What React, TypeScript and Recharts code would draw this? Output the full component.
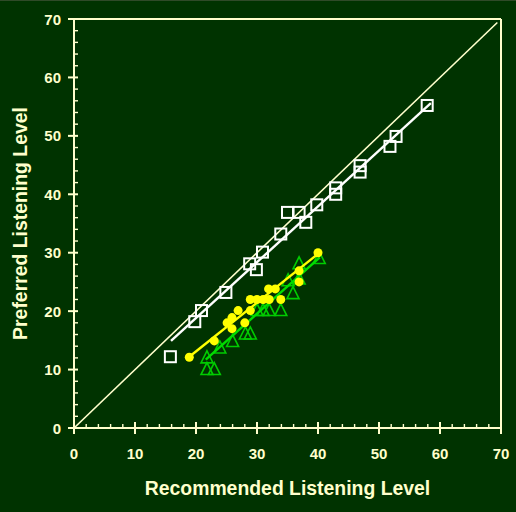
import React from 'react';
import { ScatterChart, Scatter, XAxis, YAxis, ReferenceLine } from 'recharts';

const cream = '#ffffcc';
const bg = '#003300';

const axisTicks = [0, 2, 4, 6, 8, 10, 12, 14, 16, 18, 20, 22, 24, 26, 28, 30, 32, 34, 36, 38, 40, 42, 44, 46, 48, 50, 52, 54, 56, 58, 60, 62, 64, 66, 68, 70];

const squarePoints = [
  { x: 15.8, y: 12.2 },
  { x: 19.8, y: 18.2 },
  { x: 20.9, y: 20.1 },
  { x: 24.9, y: 23.2 },
  { x: 28.8, y: 28.1 },
  { x: 29.9, y: 27.1 },
  { x: 30.9, y: 30.1 },
  { x: 33.9, y: 33.2 },
  { x: 35.0, y: 36.9 },
  { x: 36.9, y: 36.9 },
  { x: 38.0, y: 35.2 },
  { x: 39.8, y: 38.2 },
  { x: 42.9, y: 41.1 },
  { x: 42.9, y: 40.0 },
  { x: 46.9, y: 44.9 },
  { x: 46.9, y: 43.8 },
  { x: 51.8, y: 48.2 },
  { x: 52.8, y: 49.9 },
  { x: 57.9, y: 55.2 },
];

const circlePoints = [
  { x: 18.9, y: 12.1 },
  { x: 23.0, y: 14.9 },
  { x: 25.1, y: 18.0 },
  { x: 25.9, y: 18.9 },
  { x: 25.9, y: 17.0 },
  { x: 26.9, y: 20.1 },
  { x: 28.0, y: 18.0 },
  { x: 28.9, y: 20.1 },
  { x: 28.9, y: 22.0 },
  { x: 30.0, y: 22.0 },
  { x: 31.0, y: 22.0 },
  { x: 32.0, y: 22.0 },
  { x: 31.9, y: 23.8 },
  { x: 33.0, y: 23.8 },
  { x: 33.9, y: 22.0 },
  { x: 36.9, y: 25.0 },
  { x: 36.9, y: 26.9 },
  { x: 40.0, y: 30.0 },
];

const trianglePoints = [
  { x: 21.8, y: 12.0 },
  { x: 21.8, y: 10.0 },
  { x: 23.0, y: 10.0 },
  { x: 23.9, y: 13.7 },
  { x: 26.0, y: 14.8 },
  { x: 28.1, y: 16.1 },
  { x: 28.9, y: 16.1 },
  { x: 30.0, y: 20.1 },
  { x: 31.0, y: 20.1 },
  { x: 32.0, y: 20.1 },
  { x: 33.9, y: 20.1 },
  { x: 35.9, y: 23.0 },
  { x: 35.1, y: 25.2 },
  { x: 36.9, y: 25.5 },
  { x: 36.9, y: 28.1 },
  { x: 40.2, y: 29.0 },
];

const diagonal = [{ x: 0, y: 0 }, { x: 69.4, y: 69.4 }];
const squareFit = [{ x: 15.9, y: 14.9 }, { x: 58.5, y: 55.6 }];
const circleFit = [{ x: 18.9, y: 12.2 }, { x: 40.0, y: 29.8 }];
const triangleFit = [{ x: 21.6, y: 11.7 }, { x: 40.3, y: 29.2 }];

const Square = ({ cx, cy }: any) => (
  <rect x={cx - 5.5} y={cy - 5.5} width={11} height={11} fill="none" stroke="#ffffff" strokeWidth={2} />
);

const Circle = ({ cx, cy }: any) => <circle cx={cx} cy={cy} r={4.5} fill="#ffff00" />;

const Triangle = ({ cx, cy }: any) => (
  <path d={`M${cx},${cy - 7} L${cx + 6},${cy + 5} L${cx - 6},${cy + 5} Z`} fill="none" stroke="#00cc00" strokeWidth={1.6} />
);

const NoDot = () => <g />;

const XTick = ({ x, y, payload }: any) => {
  const major = payload.value % 10 === 0;
  return (
    <g>
      <line x1={x} x2={x} y1={major ? y - 6 : y - 4} y2={major ? y + 6 : y} stroke={cream} strokeWidth={major ? 2 : 1.4} />
      {major && (
        <text x={x} y={y + 31} textAnchor="middle" fill={cream} fontSize={15} fontWeight="bold" fontFamily="Liberation Sans, Arial, sans-serif">
          {payload.value}
        </text>
      )}
    </g>
  );
};

const YTick = ({ x, y, payload }: any) => {
  const major = payload.value % 10 === 0;
  return (
    <g>
      <line x1={major ? x - 6 : x} x2={x + 4} y1={y} y2={y} stroke={cream} strokeWidth={major ? 2 : 1.4} />
      {major && (
        <text x={x - 13} y={y + 5.5} textAnchor="end" fill={cream} fontSize={15} fontWeight="bold" fontFamily="Liberation Sans, Arial, sans-serif">
          {payload.value}
        </text>
      )}
    </g>
  );
};

const XTitle = ({ viewBox }: any) => (
  <text x={viewBox.x + viewBox.width / 2} y={494} textAnchor="middle" fill={cream} fontSize={19.4} fontWeight="bold" fontFamily="Liberation Sans, Arial, sans-serif">
    Recommended Listening Level
  </text>
);

const YTitle = ({ viewBox }: any) => {
  const cy = viewBox.y + viewBox.height / 2;
  return (
    <text x={27} y={cy} transform={`rotate(-90, 27, ${cy})`} textAnchor="middle" fill={cream} fontSize={19.4} fontWeight="bold" fontFamily="Liberation Sans, Arial, sans-serif">
      Preferred Listening Level
    </text>
  );
};

export default function App() {
  return (
    <div style={{ position: 'absolute', left: 0, top: 0, width: 516, height: 512, background: bg, boxSizing: 'border-box', borderTop: '1px solid #2f4a28' }}>
      <style>{'body{margin:0}'}</style>
      <ScatterChart width={516} height={511} margin={{ top: 18, right: 15, bottom: 0, left: 0 }}>
        <XAxis
          type="number"
          dataKey="x"
          domain={[0, 70]}
          ticks={axisTicks}
          interval={0}
          allowDataOverflow
          height={84}
          tickSize={0}
          tickMargin={0}
          tick={<XTick />}
          axisLine={{ stroke: cream, strokeWidth: 2 }}
          label={{ content: <XTitle /> }}
        />
        <YAxis
          type="number"
          dataKey="y"
          domain={[0, 70]}
          ticks={axisTicks}
          interval={0}
          allowDataOverflow
          width={74}
          tickSize={0}
          tickMargin={0}
          tick={<YTick />}
          axisLine={{ stroke: cream, strokeWidth: 2 }}
          label={{ content: <YTitle /> }}
        />
        <ReferenceLine y={70} stroke={cream} strokeWidth={2} />
        <ReferenceLine x={70} stroke={cream} strokeWidth={2} />
        <Scatter data={diagonal} line={{ stroke: cream, strokeWidth: 1.6 }} shape={<NoDot />} isAnimationActive={false} />
        <Scatter data={squareFit} line={{ stroke: '#ffffff', strokeWidth: 2.4 }} shape={<NoDot />} isAnimationActive={false} />
        <Scatter data={squarePoints} shape={<Square />} isAnimationActive={false} />
        <Scatter data={trianglePoints} shape={<Triangle />} isAnimationActive={false} />
        <Scatter data={triangleFit} line={{ stroke: '#00dd00', strokeWidth: 2.4 }} shape={<NoDot />} isAnimationActive={false} />
        <Scatter data={circlePoints} shape={<Circle />} isAnimationActive={false} />
        <Scatter data={circleFit} line={{ stroke: '#ffff00', strokeWidth: 2.4 }} shape={<NoDot />} isAnimationActive={false} />
      </ScatterChart>
    </div>
  );
}
